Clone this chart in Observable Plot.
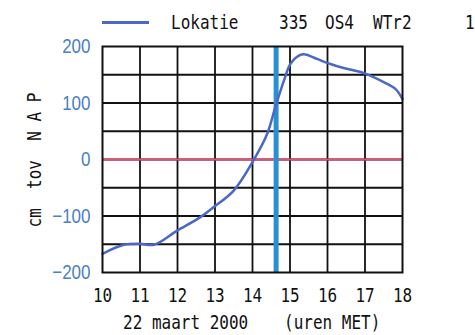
<!DOCTYPE html>
<html>
<head>
<meta charset="utf-8">
<script src="https://cdn.jsdelivr.net/npm/d3@7"></script>
<script src="https://cdn.jsdelivr.net/npm/@observablehq/plot@0.6"></script>
<style>
  html, body { margin: 0; padding: 0; background: #fff; }
  #wrap { position: relative; width: 475px; height: 335px; overflow: hidden; }
  .mono { font-family: "DejaVu Sans Mono", monospace; color: #111; font-size: 16px; position: absolute; white-space: pre; line-height: 1; transform: scaleY(1.25); transform-origin: 0 50%; }
  #leg-line { position: absolute; left: 102px; top: 21px; width: 47px; height: 3px; background: #4a68c4; }
  #ylab { position: absolute; left: 35px; top: 160px; transform: translate(-50%, -50%) rotate(-90deg) scaleY(1.25); transform-origin: 50% 50%; }
</style>
</head>
<body>
<div id="wrap">
  <div id="leg-line"></div>
  <div class="mono" style="left:171px; top:15px;">Lokatie</div>
  <div class="mono" style="left:279px; top:15px;">335</div>
  <div class="mono" style="left:325px; top:15px;">OS4</div>
  <div class="mono" style="left:373px; top:15px;">WTr2</div>
  <div class="mono" style="left:465px; top:15px;">1</div>
  <div class="mono" id="ylab">cm  tov  N A P</div>
  <div class="mono" style="left:123px; top:315px;">22 maart 2000</div>
  <div class="mono" style="left:284px; top:315px;">(uren MET)</div>
  <div id="chart" style="position:absolute; left:0; top:0;"></div>
</div>
<script>
// Data
const hours = [10, 10.57, 11.0, 11.37, 11.99, 12.61, 12.97, 13.5, 14.04, 14.39, 14.61, 14.84, 15.01, 15.24, 15.41, 15.72, 16.08, 16.43, 16.97, 17.5, 17.81, 18];
const levels = [-167, -151, -149, -151, -126, -102, -84, -55, 0, 45, 93, 140, 169, 184, 186, 178, 169, 162, 153, 137, 125, 107];
const xTicks = [10, 11, 12, 13, 14, 15, 16, 17, 18];
const yTicks = [-200, -100, 0, 100, 200];
const yGrid = [-150, -100, -50, 0, 50, 100, 150];
const xGrid = [11, 12, 13, 14, 15, 16, 17];
const markerHour = [14.63];
const refLevel = [0];

const data = hours.map((h, i) => ({hour: h, level: levels[i]}));

const chart = Plot.plot({
  width: 475,
  height: 335,
  marginLeft: 102,
  marginRight: 73,
  marginTop: 46,
  marginBottom: 63,
  style: {background: "transparent", overflow: "visible"},
  x: {domain: [10, 18]},
  y: {domain: [-200, 200]},
  marks: [
    Plot.ruleY(yGrid, {stroke: "#111", strokeWidth: 1.8}),
    Plot.ruleX(xGrid, {stroke: "#111", strokeWidth: 1.8}),
    Plot.ruleY(refLevel, {stroke: "#e8506e", strokeWidth: 2}),
    Plot.ruleX(markerHour, {stroke: "#2a90d4", strokeWidth: 5}),
    Plot.line(data, {x: "hour", y: "level", stroke: "#4a68c4", strokeWidth: 2.5, curve: "catmull-rom"}),
    Plot.frame({stroke: "#111", strokeWidth: 2}),
    Plot.axisY(yTicks, {tickSize: 0, tickPadding: 12, label: null, fill: "#4a80c4", fontSize: 17, fontFamily: "Liberation Sans, Arial, sans-serif", className: "yax"}),
    Plot.axisX(xTicks, {tickSize: 0, tickPadding: 16, label: null, fill: "#111", fontSize: 16, fontFamily: "DejaVu Sans Mono, monospace", className: "xax"})
  ]
});
// stretch the tick labels vertically, like the plotter lettering of the original
chart.querySelectorAll(".yax text, .xax text").forEach(t => {
  const tr = t.getAttribute("transform") || "";
  t.setAttribute("transform", tr + " scale(1,1.22)");
});
document.getElementById("chart").appendChild(chart);
</script>
</body>
</html>
